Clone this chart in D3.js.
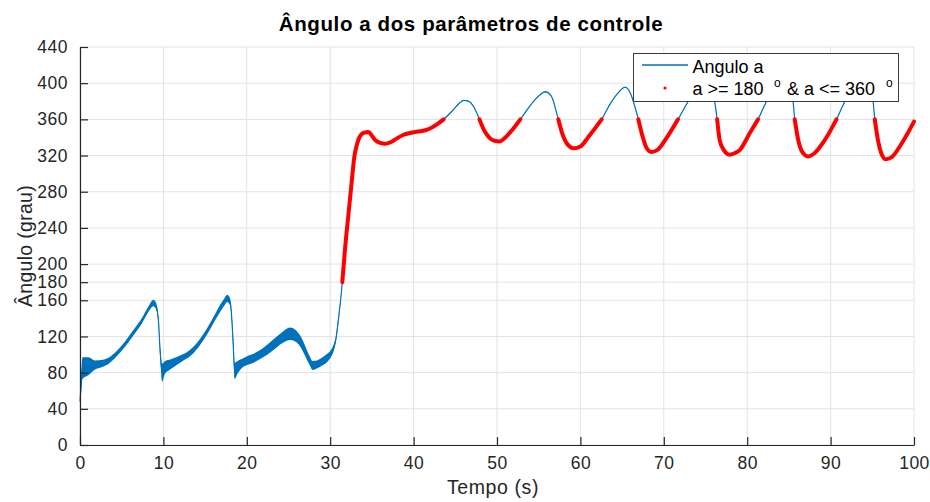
<!DOCTYPE html>
<html>
<head>
<meta charset="utf-8">
<script src="https://cdn.jsdelivr.net/npm/d3@7"></script>
<style>
  html, body { margin: 0; padding: 0; background: #fff; }
  svg { display: block; font-family: "Liberation Sans", Arial, Helvetica, sans-serif; }
</style>
</head>
<body>
<svg id="chart" width="930" height="502"></svg>
<script>
// ---------- data ----------
const timeS = [
  0.0, 0.1, 0.3, 1.0, 1.8, 2.6, 3.4, 4.4, 5.4, 6.4, 7.4, 8.2, 8.8, 9.1, 9.4, 9.6, 9.85,
  10.2, 10.6, 11.2, 12.0, 12.8, 13.6, 14.4, 15.2, 16.0, 16.8, 17.3, 17.65, 18.0, 18.2, 18.35, 18.55,
  18.9, 19.4, 20.2, 20.8, 21.6, 22.4, 23.2, 24.0, 24.6, 25.2, 25.8, 26.4, 27.0, 27.5, 27.9,
  28.4, 29.0, 29.6, 30.0, 30.4, 30.7, 31.0, 31.3, 31.45,
  31.8, 32.2, 32.6, 32.9, 33.2, 33.5, 34.0, 34.6, 35.0, 35.4, 36.0, 36.6, 37.3, 38.0, 38.8,
  39.6, 40.5, 41.4, 42.2, 42.8, 43.6, 44.8, 45.5, 46.0, 46.6, 47.2, 47.9, 48.4, 48.8, 49.3,
  49.8, 50.3, 51.0, 51.8, 52.8, 53.8, 54.8, 55.8, 56.5, 57.35, 57.8, 58.4, 59.2, 60.0, 61.0,
  62.55, 63.5, 64.5, 65.35, 66.0, 66.5, 66.95, 67.4, 67.9, 68.5, 69.2, 70.3, 71.7, 72.9, 74.0,
  74.9, 75.6, 76.1, 76.4, 76.7, 77.2, 77.9, 78.6, 79.1, 80.3, 81.3, 82.3, 83.4, 84.4, 85.1,
  85.5, 85.7, 86.1, 86.6, 87.3, 88.0, 89.3, 90.7, 91.7, 92.8, 93.8, 94.6, 95.1, 95.3, 95.7,
  96.1, 96.6, 97.3, 98.5, 100.0
];
const anguloA = [
  48, 62, 85, 87, 88.5, 90, 93, 101, 111.5, 124, 137, 150, 157, 154, 138, 105, 80,
  86, 88, 91, 95, 99, 105, 114, 125, 138, 151, 158, 162, 158, 140, 115, 82,
  86, 90, 94, 96, 100, 105, 111, 117, 121, 123, 121, 115, 104, 94, 88,
  89, 92, 96, 100, 107, 118, 140, 165, 180,
  219, 256, 293, 319, 332, 340, 345, 346, 342, 337, 334, 333, 335, 339, 343,
  345, 346.5, 348, 351, 354.5, 360, 371, 378, 381, 380, 374, 360, 349, 343, 338,
  336, 335.5, 340, 348, 360, 373, 384, 390.5, 386, 360, 345, 333, 328, 330, 341,
  360, 376, 389, 395.5, 389, 375, 360, 343, 329, 324, 326, 339, 360, 379.5, 395,
  401, 397, 379.5, 360, 337, 326, 321, 323, 326, 344.6, 360, 379.5, 395, 402, 398,
  379.5, 360, 338, 324, 319, 322, 337, 360, 379.5, 396, 404, 400, 379.5, 360, 336,
  322, 316, 318, 333, 357.5
];
// half-width of the noisy band (degrees) around the curve
const ruido = [
  1, 8, 12, 10, 5, 4, 3.5, 3, 3, 3, 3, 3, 3.5, 3.5, 3.5, 5, 10,
  7, 6, 5, 4, 3.5, 3.5, 3.5, 3.5, 3.5, 4, 4, 4, 4, 4, 6, 9,
  7, 5, 5, 5, 5, 5.5, 6, 6, 6.5, 7, 6.5, 6, 5.5, 5, 5,
  4.5, 4.5, 4.5, 4, 3.5, 3, 2, 1, 0.5,
  0.5, 0.5, 0.5, 0.5, 0.5, 0.5, 0.5, 0.5, 0.5, 0.5, 0.5, 0.5, 0.5, 0.5, 0.5,
  0.5, 0.5, 0.5, 0.5, 0.5, 0.5, 0.5, 0.5, 0.5, 0.5, 0.5, 0.5, 0.5, 0.5, 0.5,
  0.5, 0.5, 0.5, 0.5, 0.5, 0.5, 0.5, 0.5, 0.5, 0.5, 0.5, 0.5, 0.5, 0.5, 0.5,
  0.5, 0.5, 0.5, 0.5, 0.5, 0.5, 0.5, 0.5, 0.5, 0.5, 0.5, 0.5, 0.5, 0.5, 0.5,
  0.5, 0.5, 0.5, 0.5, 0.5, 0.5, 0.5, 0.5, 0.5, 0.5, 0.5, 0.5, 0.5, 0.5, 0.5,
  0.5, 0.5, 0.5, 0.5, 0.5, 0.5, 0.5, 0.5, 0.5, 0.5, 0.5, 0.5, 0.5, 0.5, 0.5,
  0.5, 0.5, 0.5, 0.5, 0.5
];
const limiteInf = 180;
const limiteSup = 360;

const xTickValues = [0, 10, 20, 30, 40, 50, 60, 70, 80, 90, 100];
const yTickValues = [0, 40, 80, 120, 160, 180, 200, 240, 280, 320, 360, 400, 440];

const titulo = "Ângulo a dos parâmetros de controle";
const rotuloX = "Tempo (s)";
const rotuloY = "Ângulo (grau)";
const legenda1 = "Angulo a";
const legenda2a = "a >= 180";
const legenda2b = "& a <= 360";
const grauSimbolo = "o";

// ---------- layout ----------
const svg = d3.select("#chart");
const x = d3.scaleLinear().domain([0, 100]).range([80, 914]);
const y = d3.scaleLinear().domain([0, 440]).range([445, 47]);
const azul = "#0072BD";
const vermelho = "#FF0000";
const eixoCor = "#262626";

const data = timeS.map((t, i) => ({ t, v: anguloA[i], n: ruido[i] }));

// grid
const grid = svg.append("g");
grid.selectAll("line.gx").data(xTickValues).join("line")
  .attr("x1", d => x(d)).attr("x2", d => x(d))
  .attr("y1", y(0)).attr("y2", y(440))
  .attr("stroke", "#e3e3e3").attr("stroke-width", 1);
grid.selectAll("line.gy").data(yTickValues).join("line")
  .attr("y1", d => y(d)).attr("y2", d => y(d))
  .attr("x1", x(0)).attr("x2", x(100))
  .attr("stroke", "#e3e3e3").attr("stroke-width", 1);

// noisy band
const band = d3.area()
  .x(d => x(d.t)).y0(d => y(d.v - d.n)).y1(d => y(d.v + d.n))
  .curve(d3.curveMonotoneX);
svg.append("path").datum(data).attr("d", band).attr("fill", azul);

// main line
const linha = d3.line().x(d => x(d.t)).y(d => y(d.v)).curve(d3.curveMonotoneX);
svg.append("path").datum(data).attr("d", linha)
  .attr("fill", "none").attr("stroke", azul).attr("stroke-width", 1.2);

// red points region (180 <= a <= 360)
const linhaVerm = d3.line().x(d => x(d.t)).y(d => y(d.v))
  .defined(d => d.v >= limiteInf && d.v <= limiteSup)
  .curve(d3.curveMonotoneX);
svg.append("path").datum(data).attr("d", linhaVerm)
  .attr("fill", "none").attr("stroke", vermelho).attr("stroke-width", 4)
  .attr("stroke-linecap", "round");

// axes
const axY = svg.append("g").attr("transform", `translate(${x(0)},0)`)
  .call(d3.axisLeft(y).tickValues(yTickValues).tickSizeInner(-8).tickSizeOuter(0).tickPadding(12));
const axX = svg.append("g").attr("transform", `translate(0,${y(0)})`)
  .call(d3.axisBottom(x).tickValues(xTickValues).tickSizeInner(-8).tickSizeOuter(0).tickPadding(12));
[axX, axY].forEach(ax => {
  ax.select(".domain").attr("stroke", eixoCor).attr("stroke-width", 1.2);
  ax.selectAll(".tick line").attr("stroke", eixoCor).attr("stroke-width", 1.2);
  ax.selectAll(".tick text").attr("fill", eixoCor)
    .style("font-size", "17.5px").style("letter-spacing", "0.5px")
    .style("font-family", "'Liberation Sans', Arial, sans-serif");
});

// title and labels
svg.append("text").attr("x", 471).attr("y", 31).attr("text-anchor", "middle")
  .style("font-size", "20.5px").style("font-weight", "bold").style("letter-spacing", "0.6px")
  .attr("fill", "#000").text(titulo);
svg.append("text").attr("x", 493).attr("y", 494).attr("text-anchor", "middle")
  .style("font-size", "19.5px").style("letter-spacing", "0.6px")
  .attr("fill", eixoCor).text(rotuloX);
svg.append("text").attr("transform", "translate(32,246) rotate(-90)").attr("text-anchor", "middle")
  .style("font-size", "19.5px").style("letter-spacing", "0.3px")
  .attr("fill", eixoCor).text(rotuloY);

// legend
const leg = svg.append("g");
leg.append("rect").attr("x", 633.5).attr("y", 53.5).attr("width", 265).attr("height", 48)
  .attr("fill", "#fff").attr("stroke", "#3c3c3c").attr("stroke-width", 1);
leg.append("line").attr("x1", 642).attr("x2", 688).attr("y1", 65).attr("y2", 65)
  .attr("stroke", azul).attr("stroke-width", 1.5);
leg.append("text").attr("x", 692.5).attr("y", 72.5).style("font-size", "18px")
  .attr("fill", "#000").text(legenda1);
leg.append("circle").attr("cx", 665).attr("cy", 88).attr("r", 1.6).attr("fill", vermelho);
leg.append("text").attr("x", 692.5).attr("y", 95).style("font-size", "18px")
  .attr("fill", "#000").text(legenda2a);
leg.append("text").attr("x", 774).attr("y", 87).style("font-size", "12px")
  .attr("fill", "#000").text(grauSimbolo);
leg.append("text").attr("x", 787).attr("y", 95).style("font-size", "18px")
  .attr("fill", "#000").text(legenda2b);
leg.append("text").attr("x", 886).attr("y", 87).style("font-size", "12px")
  .attr("fill", "#000").text(grauSimbolo);
</script>
</body>
</html>
